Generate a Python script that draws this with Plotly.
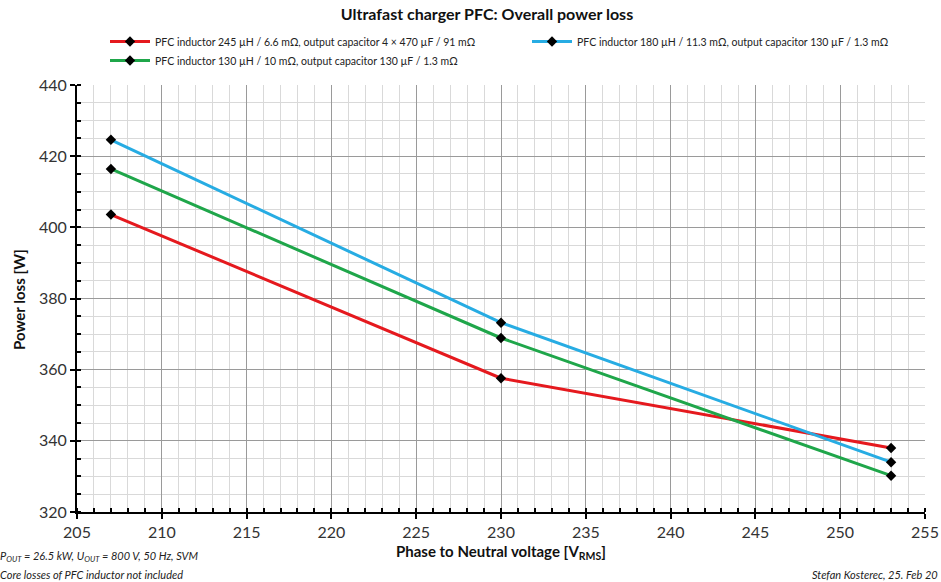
import plotly.graph_objects as go

voltage = [207, 230, 253]
loss_245uH = [403.6, 357.6, 338.0]
loss_180uH = [424.6, 373.2, 334.0]
loss_130uH = [416.4, 368.9, 330.2]

names = [
    "PFC inductor 245 µH / 6.6 mΩ, output capacitor 4 × 470 µF / 91 mΩ",
    "PFC inductor 180 µH / 11.3 mΩ, output capacitor 130 µF / 1.3 mΩ",
    "PFC inductor 130 µH / 10 mΩ, output capacitor 130 µF / 1.3 mΩ",
]
colors = ["#E5191E", "#27ACE3", "#1FA64A"]
legend_ids = ["legend", "legend2", "legend"]
series = [loss_245uH, loss_180uH, loss_130uH]

W, H = 941, 582
L, R, T, B = 77, 16, 85, 70
FONT = "Lato"

fig = go.Figure()
for name, col, ys, lg in zip(names, colors, series, legend_ids):
    fig.add_trace(go.Scatter(
        x=voltage, y=ys, name=name, mode="lines+markers",
        line=dict(color=col, width=3), legend=lg,
        marker=dict(symbol="diamond", size=8, color="black",
                    line=dict(color="black", width=0)),
    ))

legend_common = dict(orientation="v", xref="container", yref="container",
                     xanchor="left", y=1 - 27 / H, yanchor="top",
                     itemwidth=40, tracegroupgap=0, bgcolor="rgba(0,0,0,0)",
                     font=dict(size=10.5, family=FONT, color="#222222"))

fig.update_layout(
    width=W, height=H,
    margin=dict(l=L, r=R, t=T, b=B, autoexpand=False),
    paper_bgcolor="white", plot_bgcolor="white",
    font=dict(family=FONT, color="#222222"),
    title=dict(text="<b>Ultrafast charger PFC: Overall power loss</b>",
               x=487 / W, xref="container", xanchor="center",
               y=1 - 14 / H, yref="container", yanchor="middle",
               font=dict(size=16, color="#111111", family=FONT)),
    legend=dict(x=105 / W, **legend_common),
    legend2=dict(x=527 / W, **legend_common),
    showlegend=True,
)

fig.update_xaxes(
    range=[205, 255], dtick=5, tick0=205,
    showgrid=True, gridcolor="#9a9a9a", gridwidth=1,
    minor=dict(dtick=1, showgrid=True, gridcolor="#d9d9d9", gridwidth=1,
               ticks="inside", ticklen=4, tickcolor="black", tickwidth=2),
    ticks="outside", ticklen=5, tickwidth=2, tickcolor="black",
    showline=True, linecolor="black", linewidth=2, zeroline=False,
    tickfont=dict(size=16, family=FONT, color="#333333"),
    title=dict(text="<b>Phase to Neutral voltage [V<sub>RMS</sub>]</b>",
               font=dict(size=15, family=FONT, color="#111111"), standoff=6),
)
fig.update_yaxes(
    range=[320, 440], dtick=20, tick0=320,
    showgrid=True, gridcolor="#9a9a9a", gridwidth=1,
    minor=dict(dtick=5, showgrid=True, gridcolor="#d9d9d9", gridwidth=1,
               ticks="inside", ticklen=4, tickcolor="black", tickwidth=2),
    ticks="outside", ticklen=5, tickwidth=2, tickcolor="black",
    showline=True, linecolor="black", linewidth=2, zeroline=False,
    tickfont=dict(size=16, family=FONT, color="#333333"),
)

pw = W - L - R
ph = H - T - B
def px_x(p):
    return (p - L) / pw
def px_y(p):
    return (H - B - p) / ph

fig.add_annotation(text="<b>Power loss [W]</b>", textangle=-90,
                   xref="paper", yref="paper", x=px_x(19), y=px_y(300),
                   xanchor="center", yanchor="middle", showarrow=False,
                   font=dict(size=15, family=FONT, color="#111111"))
fig.add_annotation(text="<i>P<sub>OUT</sub> = 26.5 kW, U<sub>OUT</sub> = 800 V, 50 Hz, SVM</i>",
                   xref="paper", yref="paper", x=px_x(-2), y=px_y(556),
                   xanchor="left", yanchor="middle", showarrow=False,
                   font=dict(size=11, family=FONT, color="#222222"))
fig.add_annotation(text="<i>Core losses of PFC inductor not included</i>",
                   xref="paper", yref="paper", x=px_x(-2), y=px_y(574),
                   xanchor="left", yanchor="middle", showarrow=False,
                   font=dict(size=11, family=FONT, color="#222222"))
fig.add_annotation(text="<i>Stefan Kosterec, 25. Feb 20</i>",
                   xref="paper", yref="paper", x=px_x(940), y=px_y(574),
                   xanchor="right", yanchor="middle", showarrow=False,
                   font=dict(size=11, family=FONT, color="#222222"))

fig.write_html("out.html")
